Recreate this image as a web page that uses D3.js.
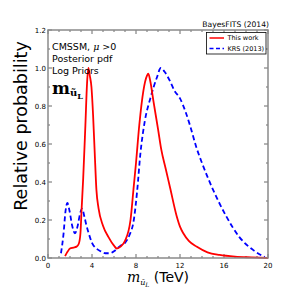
<!DOCTYPE html>
<html>
<head>
<meta charset="utf-8">
<script src="https://cdn.jsdelivr.net/npm/d3@7"></script>
<style>
  body { margin: 0; background: #fff; }
  text { font-family: 'DejaVu Sans', sans-serif; }
</style>
</head>
<body>
<div id="chart"></div>
<script>
// mass in TeV, relative probability
const thisWorkX = [1.55, 1.8, 2.0, 2.3, 2.6, 2.8, 2.95, 3.05, 3.2, 3.4, 3.55, 3.67, 3.8, 3.95, 4.1, 4.25, 4.4, 4.6, 5.0, 5.5, 6.0, 6.25, 6.6, 7.0, 7.5, 7.8, 8.0, 8.3, 8.67, 9.0, 9.12, 9.3, 9.6, 10.0, 10.3, 10.7, 11.1, 11.7, 12.0, 12.3, 12.8, 13.5, 14.5, 15.6, 17.0, 18.5, 20.0];
const thisWorkY = [0.01, 0.035, 0.05, 0.055, 0.06, 0.075, 0.13, 0.25, 0.42, 0.7, 0.92, 1.0, 0.96, 0.9, 0.75, 0.55, 0.36, 0.26, 0.17, 0.11, 0.065, 0.05, 0.06, 0.09, 0.2, 0.38, 0.5, 0.7, 0.88, 0.96, 0.97, 0.93, 0.82, 0.68, 0.57, 0.47, 0.37, 0.22, 0.165, 0.13, 0.09, 0.06, 0.03, 0.016, 0.007, 0.003, 0.0];

const krsX = [1.18, 1.4, 1.6, 1.76, 1.95, 2.2, 2.45, 2.7, 2.9, 3.1, 3.3, 3.5, 3.7, 4.0, 4.4, 4.8, 5.2, 5.6, 6.0, 6.3, 6.6, 7.0, 7.4, 7.8, 8.1, 8.4, 8.8, 9.3, 9.9, 10.25, 10.6, 11.1, 11.5, 12.0, 12.5, 12.9, 13.5, 14.0, 15.0, 16.2, 17.4, 18.7, 19.7];
const krsY = [0.025, 0.12, 0.25, 0.29, 0.25, 0.17, 0.13, 0.17, 0.23, 0.26, 0.22, 0.17, 0.13, 0.08, 0.05, 0.035, 0.025, 0.025, 0.035, 0.05, 0.065, 0.08, 0.12, 0.2, 0.35, 0.55, 0.72, 0.84, 0.95, 1.0, 0.98, 0.93, 0.88, 0.84, 0.77, 0.7, 0.58, 0.5, 0.36, 0.22, 0.11, 0.04, 0.005];

const xTicks = [0, 4, 8, 12, 16, 20];
const yTicks = [0.0, 0.2, 0.4, 0.6, 0.8, 1.0, 1.2];

const margin = {top: 30, right: 31, bottom: 41, left: 48};
const width = 299 - margin.left - margin.right;
const height = 299 - margin.top - margin.bottom;

const svg = d3.select('#chart')
  .append('svg')
  .attr('width', 299)
  .attr('height', 299);

const g = svg.append('g')
  .attr('transform', `translate(${margin.left},${margin.top})`);

const x = d3.scaleLinear().domain([0, 20]).range([0, width]);
const y = d3.scaleLinear().domain([0, 1.2]).range([height, 0]);

const spine = '#8a8a8a';

// ticks, pointing inward on all four sides
const tickGroup = g.append('g').attr('class', 'ticks');
const xMinor = d3.range(0, 21, 1);
const yMinor = d3.range(0, 1.21, 0.1);

tickGroup.selectAll('.xt')
  .data(xMinor)
  .enter().append('path')
    .attr('d', d => {
      const len = xTicks.includes(d) ? 4 : 2;
      return `M${x(d)},${height}v${-len}M${x(d)},0v${len}`;
    })
    .style('stroke', '#444')
    .style('stroke-width', 0.8);

tickGroup.selectAll('.yt')
  .data(yMinor)
  .enter().append('path')
    .attr('d', (d, i) => {
      const len = i % 2 === 0 ? 4 : 2;
      return `M0,${y(d)}h${len}M${width},${y(d)}h${-len}`;
    })
    .style('stroke', '#444')
    .style('stroke-width', 0.8);

// tick labels
g.selectAll('.xl')
  .data(xTicks)
  .enter().append('text')
    .attr('x', d => x(d))
    .attr('y', height + 10)
    .attr('text-anchor', 'middle')
    .style('font-size', '7px')
    .text(d => d);

g.selectAll('.yl')
  .data(yTicks)
  .enter().append('text')
    .attr('x', -2)
    .attr('y', d => y(d) + 2.5)
    .attr('text-anchor', 'end')
    .style('font-size', '7px')
    .text(d => d3.format('.1f')(d));

// curves
const line = d3.line()
  .x(d => x(d[0]))
  .y(d => y(d[1]))
  .curve(d3.curveMonotoneX);

g.append('path')
  .datum(krsX.map((v, i) => [v, krsY[i]]))
  .attr('d', line)
  .style('fill', 'none')
  .style('stroke', '#0000ff')
  .style('stroke-width', 1.8)
  .style('stroke-dasharray', '5,3');

g.append('path')
  .datum(thisWorkX.map((v, i) => [v, thisWorkY[i]]))
  .attr('d', line)
  .style('fill', 'none')
  .style('stroke', '#ff0000')
  .style('stroke-width', 1.8);

// frame
g.append('rect')
  .attr('width', width)
  .attr('height', height)
  .style('fill', 'none')
  .style('stroke', spine)
  .style('stroke-width', 1.5);

// title
svg.append('text')
  .attr('x', 269)
  .attr('y', 26.5)
  .attr('text-anchor', 'end')
  .style('font-size', '7.6px')
  .text('BayesFITS (2014)');

// legend
const legend = svg.append('g').attr('class', 'legend');
legend.append('rect')
  .attr('x', 206.5)
  .attr('y', 32.5)
  .attr('width', 59.5)
  .attr('height', 21.5)
  .style('fill', '#fff')
  .style('stroke', '#000')
  .style('stroke-width', 0.8);

const entries = [
  {label: 'This work', color: '#ff0000', dash: null},
  {label: 'KRS (2013)', color: '#0000ff', dash: '4,2.5'}
];
entries.forEach((e, i) => {
  const ly = 38 + i * 10.5;
  legend.append('line')
    .attr('x1', 209.5).attr('x2', 224)
    .attr('y1', ly).attr('y2', ly)
    .style('stroke', e.color)
    .style('stroke-width', 1.5)
    .style('stroke-dasharray', e.dash);
  legend.append('text')
    .attr('x', 227.5)
    .attr('y', ly + 2.4)
    .style('font-size', '6.5px')
    .text(e.label);
});

// annotations
const notes = ['CMSSM, ', 'Posterior pdf', 'Log Priors'];
notes.forEach((n, i) => {
  const t = svg.append('text')
    .attr('x', 52)
    .attr('y', 49.5 + i * 12)
    .style('font-size', '9.5px')
    .text(n);
  if (i === 0) {
    t.append('tspan')
      .style('font-family', "'DejaVu Serif', serif")
      .style('font-style', 'italic')
      .text('μ');
    t.append('tspan').text(' >0');
  }
});

const mLabel = svg.append('text')
  .attr('x', 52)
  .attr('y', 94)
  .style('font-family', "'DejaVu Serif', serif")
  .style('font-weight', 'bold')
  .style('font-size', '17px')
  .text('m');
mLabel.append('tspan')
  .attr('dy', 2)
  .style('font-size', '10px')
  .text('ũ');
mLabel.append('tspan')
  .attr('dy', 3)
  .style('font-size', '8px')
  .text('L');

// axis labels
const xLabel = svg.append('text')
  .attr('x', 158)
  .attr('y', 282)
  .attr('text-anchor', 'middle')
  .style('font-size', '14px');
xLabel.append('tspan')
  .style('font-family', "'DejaVu Serif', serif")
  .style('font-style', 'italic')
  .text('m');
xLabel.append('tspan')
  .attr('dy', 2.5)
  .style('font-family', "'DejaVu Serif', serif")
  .style('font-style', 'italic')
  .style('font-size', '8px')
  .text('ũ');
xLabel.append('tspan')
  .attr('dy', 2)
  .style('font-family', "'DejaVu Serif', serif")
  .style('font-style', 'italic')
  .style('font-size', '6px')
  .text('L');
xLabel.append('tspan')
  .attr('dy', -4.5)
  .text(' (TeV)');

svg.append('text')
  .attr('transform', 'translate(27,126) rotate(-90)')
  .attr('text-anchor', 'middle')
  .style('font-size', '17.5px')
  .text('Relative probability');
</script>
</body>
</html>
